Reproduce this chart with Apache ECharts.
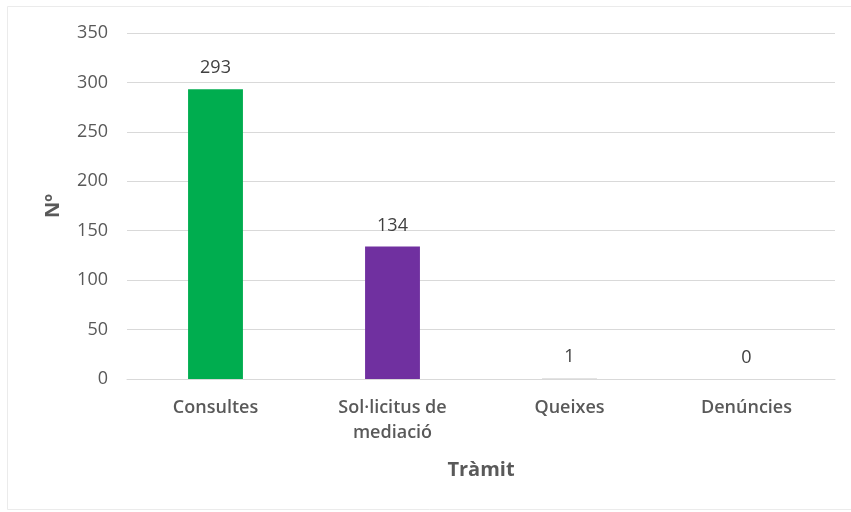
<!DOCTYPE html>
<html><head><meta charset="utf-8">
<script src="https://cdn.jsdelivr.net/npm/echarts@6/dist/echarts.min.js"></script>
<style>html,body{margin:0;padding:0;background:#fff}#c{width:851px;height:512px}</style>
</head><body><div id="c"></div>
<script>
const categories = ['Consultes', 'Sol·licitus de\nmediació', 'Queixes', 'Denúncies'];
const values = [293, 134, 1, 0];
const barColors = ['#00AD4F', '#7030A0', '#E3E3E3', '#E3E3E3'];
const yTicks = {min: 0, max: 350, interval: 50};
const xTitle = 'Tràmit';
const yTitle = 'Nº';

const font = '"Open Sans", Lato, sans-serif';
const chart = echarts.init(document.getElementById('c'), null, {renderer: 'canvas'});
chart.setOption({
  backgroundColor: '#fff',
  animation: false,
  graphic: [{type: 'rect', shape: {x: 7.5, y: 6.5, width: 850, height: 503}, style: {fill: 'none', stroke: '#ebebeb', lineWidth: 1}}],
  grid: {left: 127, right: 16, top: 33, bottom: 133},
  xAxis: {
    type: 'category', data: categories,
    name: xTitle, nameLocation: 'middle', nameGap: 81,
    nameTextStyle: {fontFamily: font, fontSize: 20, fontWeight: 'bold', color: '#595959'},
    axisLine: {lineStyle: {color: '#d9d9d9', width: 1}},
    axisTick: {show: false},
    axisLabel: {fontFamily: font, fontSize: 18, fontWeight: 600, color: '#595959', lineHeight: 25, margin: 16, interval: 0}
  },
  yAxis: {
    type: 'value', min: yTicks.min, max: yTicks.max, interval: yTicks.interval,
    name: yTitle, nameLocation: 'middle', nameGap: 64, nameRotate: 90,
    nameTextStyle: {fontFamily: font, fontSize: 20, fontWeight: 'bold', color: '#595959'},
    axisLine: {show: false}, axisTick: {show: false},
    axisLabel: {fontFamily: font, fontSize: 18, color: '#595959', margin: 19},
    splitLine: {lineStyle: {color: '#d9d9d9', width: 1}}
  },
  series: [{
    type: 'bar', barWidth: '31%',
    data: values.map((v, i) => ({value: v, itemStyle: {color: barColors[i]}})),
    label: {show: true, position: 'top', distance: 12, fontFamily: font, fontSize: 18, color: '#404040'}
  }]
});
</script></body></html>
